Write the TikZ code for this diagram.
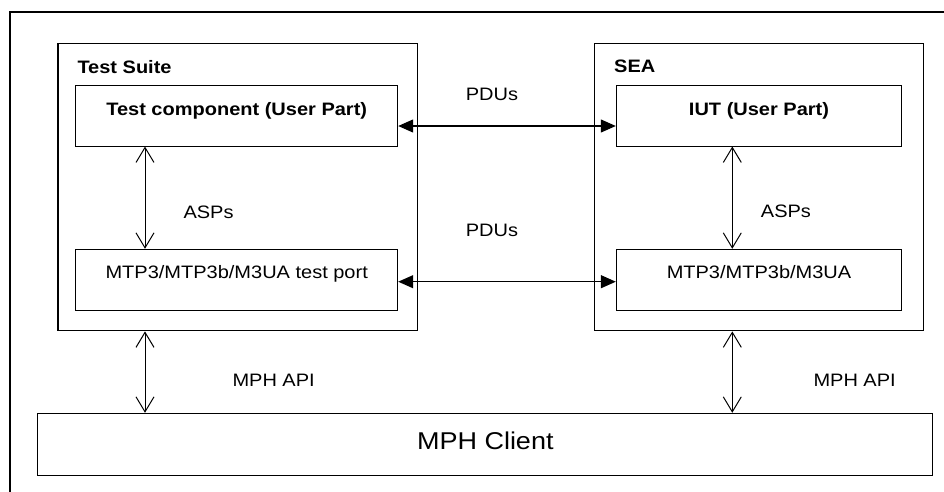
\documentclass[tikz,border=0pt]{standalone}
\usepackage{fontspec}
\setmainfont{Liberation Sans}
\usetikzlibrary{arrows.meta}
\newcommand{\vsq}[1]{\scalebox{1}[0.9]{#1}}
\tikzset{
  box/.style={draw, line width=1pt, rectangle, inner sep=0pt},
  group/.style={draw, line width=1.4pt, rectangle, inner sep=0pt},
  lbl/.style={inner sep=0pt, font=\fontsize{20}{24}\selectfont},
  blbl/.style={inner sep=0pt, font=\fontsize{20}{24}\selectfont\bfseries},
  biopen/.style={line width=1pt, {Straight Barb[length=15pt,width=18pt]}-{Straight Barb[length=15pt,width=18pt]}},
  bifill/.style={line width=1.2pt, {Triangle[length=15pt,width=13pt]}-{Triangle[length=15pt,width=13pt]}}
}
\begin{document}
\begin{tikzpicture}[x=1pt,y=-1pt]
\useasboundingbox (0,0) rectangle (944,491);
% outer frame (only left and top edges visible)
\coordinate (fbl) at (10,495);
\coordinate (ftl) at (10,12);
\coordinate (ftr) at (948,12);
\draw[line width=1.4pt] (fbl) -- (ftl) -- (ftr);

% groups
\node[group, minimum width=359.7pt, minimum height=287.4pt] (ts) at (237.85,187) {};
\node[group, minimum width=328.6pt, minimum height=287.4pt] (sea) at (759,187) {};
% inner boxes
\node[box, minimum width=322.4pt, minimum height=61pt] (tc) at (236.5,115.5) {};
\node[box, minimum width=322.4pt, minimum height=61.4pt] (tp) at (236.5,280) {};
\node[box, minimum width=285pt, minimum height=61pt] (iut) at (758.8,115.5) {};
\node[box, minimum width=285pt, minimum height=61.4pt] (mtp) at (758.8,280) {};
\node[box, minimum width=894.6pt, minimum height=61.7pt] (mph) at (485,444.15) {};

% texts
\node[blbl, anchor=base west] (tstitle) at (77.3,73.3) {\vsq{Test Suite}};
\node[blbl, anchor=base west] (seatitle) at (614,72.3) {\vsq{SEA}};
\node[blbl, anchor=base] (tctext) at (236.7,115) {\vsq{Test component (User Part)}};
\node[blbl, anchor=base] (iuttext) at (759,115) {\vsq{IUT (User Part)}};
\node[lbl, anchor=base] (tptext) at (236.7,278.3) {\vsq{MTP3/MTP3b/M3UA test port}};
\node[lbl, anchor=base] (mtptext) at (759,278.3) {\vsq{MTP3/MTP3b/M3UA}};
\node[inner sep=0pt, font=\fontsize{27}{32}\selectfont, anchor=base] (mphtext) at (485.3,449.3) {\vsq{MPH Client}};

\node[lbl, anchor=base west] (pdu1) at (465.7,100) {\vsq{PDUs}};
\node[lbl, anchor=base west] (pdu2) at (465.7,236) {\vsq{PDUs}};
\node[lbl, anchor=base west] (asp1) at (183.3,218) {\vsq{ASPs}};
\node[lbl, anchor=base west] (asp2) at (760.7,217.3) {\vsq{ASPs}};
\node[lbl, anchor=base west] (api1) at (232.3,386.7) {\vsq{MPH API}};
\node[lbl, anchor=base west] (api2) at (813.3,386.7) {\vsq{MPH API}};

% connectors
\coordinate (xl) at (145,0);
\coordinate (xr) at (732.3,0);
\coordinate (ytop) at (0,126);
\coordinate (ybot) at (0,281.7);
\draw[bifill] (tc.east |- ytop) -- (iut.west |- ytop);
\draw[bifill] (tp.east |- ybot) -- (mtp.west |- ybot);
\draw[biopen] (xl |- tc.south) -- (xl |- tp.north);
\draw[biopen] (xr |- iut.south) -- (xr |- mtp.north);
\draw[biopen] (xl |- ts.south) -- (xl |- mph.north);
\draw[biopen] (xr |- sea.south) -- (xr |- mph.north);
\end{tikzpicture}
\end{document}
